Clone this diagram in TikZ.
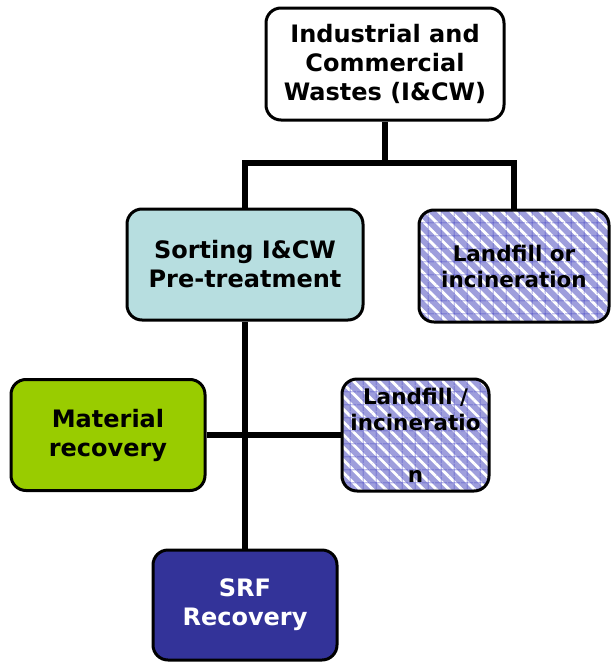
\documentclass[tikz,border=0pt]{standalone}
\usepackage{fontspec}
\setmainfont{DejaVu Sans}
\usetikzlibrary{patterns.meta}
\definecolor{sortc}{HTML}{B7DEE0}
\definecolor{matc}{HTML}{99CC00}
\definecolor{srfc}{HTML}{333399}
\definecolor{hatchbase}{HTML}{9E9EDC}
\definecolor{gridc}{HTML}{5050C8}
\tikzset{
  box/.style={draw=black, line width=3pt, rounded corners=15pt, align=center,
    inner sep=0pt, font=\bfseries\fontsize{24}{29}\selectfont},
  hatch/.style={preaction={fill=hatchbase},
    preaction={pattern={Lines[angle=-45,distance=9pt,line width=2.8pt]}, pattern color=white},
    pattern={Hatch[angle=0,distance=13pt,line width=0.5pt]}, pattern color=gridc,
    font=\bfseries\fontsize{21.5}{26}\selectfont},
  conn/.style={line width=6pt}
}
\begin{document}
\begin{tikzpicture}[x=1pt,y=1pt]
\useasboundingbox (0,0) rectangle (612,-664);
\coordinate (j1) at (385,-163);
\node[box, fill=white, minimum width=238pt, minimum height=112pt] (top) at (385,-64)
  {Industrial and\\Commercial\\Wastes (I\&CW)};
\node[box, fill=sortc, minimum width=236pt, minimum height=111pt] (sort) at (245,-264.5)
  {Sorting I\&CW\\Pre-treatment};
\node[box, hatch, minimum width=190pt, minimum height=112pt] (lf) at (514,-266)
  {Landfill or\\incineration};
\node[box, fill=matc, minimum width=194pt, minimum height=111pt] (mat) at (108,-435)
  {Material\\recovery};
\node[box, hatch, minimum width=147pt, minimum height=112pt] (lf2) at (415.5,-435)
  {Landfill /\\incineratio\\[26pt]n};
\node[box, fill=srfc, text=white, minimum width=184pt, minimum height=110pt] (srf) at (245,-605)
  {SRF\\Recovery};
\draw[conn] (top.south) -- (j1);
\draw[conn] (sort.north) -- (sort.north |- j1) -- (lf.north |- j1) -- (lf.north);
\draw[conn] (sort.south) -- (sort.south |- srf.north);
\draw[conn] (mat.east) -- (mat.east -| lf2.west);
\end{tikzpicture}
\end{document}
